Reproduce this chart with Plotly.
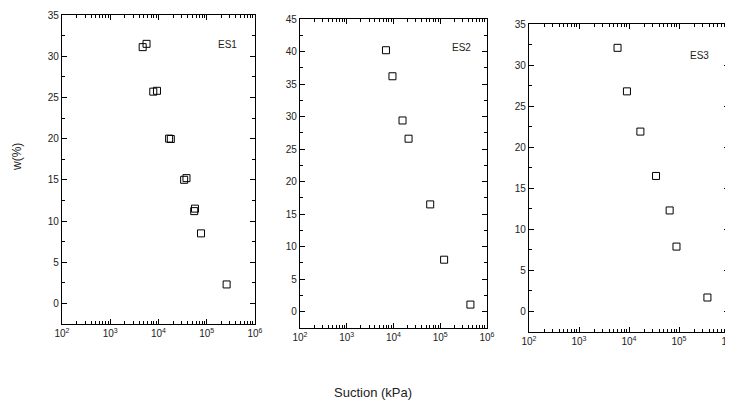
import plotly.graph_objects as go

# ---- data ----
es1_suction = [4700, 5650, 7800, 9300, 16600, 18000, 34000, 38000, 55000, 57000, 76000, 258000]
es1_w = [31.1, 31.5, 25.7, 25.8, 20.0, 19.95, 15.0, 15.2, 11.2, 11.5, 8.5, 2.3]

es2_suction = [6900, 9500, 15600, 21000, 61000, 121000, 442000]
es2_w = [40.2, 36.2, 29.4, 26.6, 16.5, 8.0, 1.1]

es3_suction = [5900, 9100, 16900, 34700, 65000, 89000, 370000]
es3_w = [32.1, 26.8, 21.9, 16.5, 12.3, 7.9, 1.7]

panel_labels = ["ES1", "ES2", "ES3"]
x_tickvals = [1e2, 1e3, 1e4, 1e5, 1e6]
x_ticktext = ["10<sup>2</sup>", "10<sup>3</sup>", "10<sup>4</sup>", "10<sup>5</sup>", "10<sup>6</sup>"]
y_ranges = [(-2.5, 35), (-2.5, 45), (-2.5, 35)]

W, H = 733, 405
OFF = 8  # page body margin in the browser
FONT = "Liberation Sans, Arial, sans-serif"


def px(x):
    return (x - OFF) / W


def py(y):
    return 1 - (y - OFF) / H


# screen-pixel boxes of each panel: left, right, top, bottom
boxes = [(62, 255, 15, 324), (300, 487, 19, 328), (529, 729, 24, 332)]
label_pos = [(0.855, 0.906), (0.861, 0.909), (0.85, 0.899)]

fig = go.Figure()
series = [(es1_suction, es1_w), (es2_suction, es2_w), (es3_suction, es3_w)]
for i, (sx, sy) in enumerate(series):
    n = "" if i == 0 else str(i + 1)
    fig.add_trace(go.Scatter(
        x=sx, y=sy, mode="markers", xaxis="x" + n, yaxis="y" + n,
        marker=dict(symbol="square-open", size=7, color="black", line=dict(width=1, color="black")),
        showlegend=False, hoverinfo="x+y"))
    l, r, t, b = boxes[i]
    common = dict(showline=True, linecolor="black", linewidth=1.2, mirror="allticks",
                  ticks="inside", ticklen=5, tickwidth=1, tickcolor="black",
                  showgrid=False, zeroline=False, automargin=False,
                  ticklabeloverflow="allow",
                  tickfont=dict(family=FONT, size=10, color="#222"))
    fig.layout["xaxis" + n] = dict(
        type="log", range=[2, 6], domain=[px(l), px(r)], anchor="y" + n,
        tickvals=x_tickvals, ticktext=x_ticktext,
        minor=dict(ticks="inside", ticklen=3, tickwidth=1, tickcolor="black",
                   tickvals=[m * 10 ** e for e in range(2, 6) for m in range(2, 10)]),
        **common)
    fig.layout["yaxis" + n] = dict(
        range=list(y_ranges[i]), domain=[py(b), py(t)], anchor="x" + n,
        dtick=5, tick0=0,
        minor=dict(ticks="inside", ticklen=3, tickwidth=1, tickcolor="black", dtick=2.5, tick0=0),
        **common)
    fig.add_annotation(text=panel_labels[i], xref="x" + n + " domain", yref="y" + n + " domain",
                       x=label_pos[i][0], y=label_pos[i][1], showarrow=False,
                       xanchor="center", yanchor="middle",
                       font=dict(family=FONT, size=10, color="#222"))

fig.add_annotation(text="Suction (kPa)", xref="paper", yref="paper", x=px(373), y=py(392),
                   xanchor="center", yanchor="middle",
                   showarrow=False, font=dict(family=FONT, size=13, color="#222"))
fig.add_annotation(text="w(%)", xref="paper", yref="paper", x=px(17), y=py(157),
                   xanchor="center", yanchor="middle",
                   textangle=-90, showarrow=False, font=dict(family=FONT, size=12, color="#222"))

fig.update_layout(width=W, height=H, margin=dict(l=0, r=0, t=0, b=0),
                  paper_bgcolor="white", plot_bgcolor="white")
fig.write_html("out.html")
